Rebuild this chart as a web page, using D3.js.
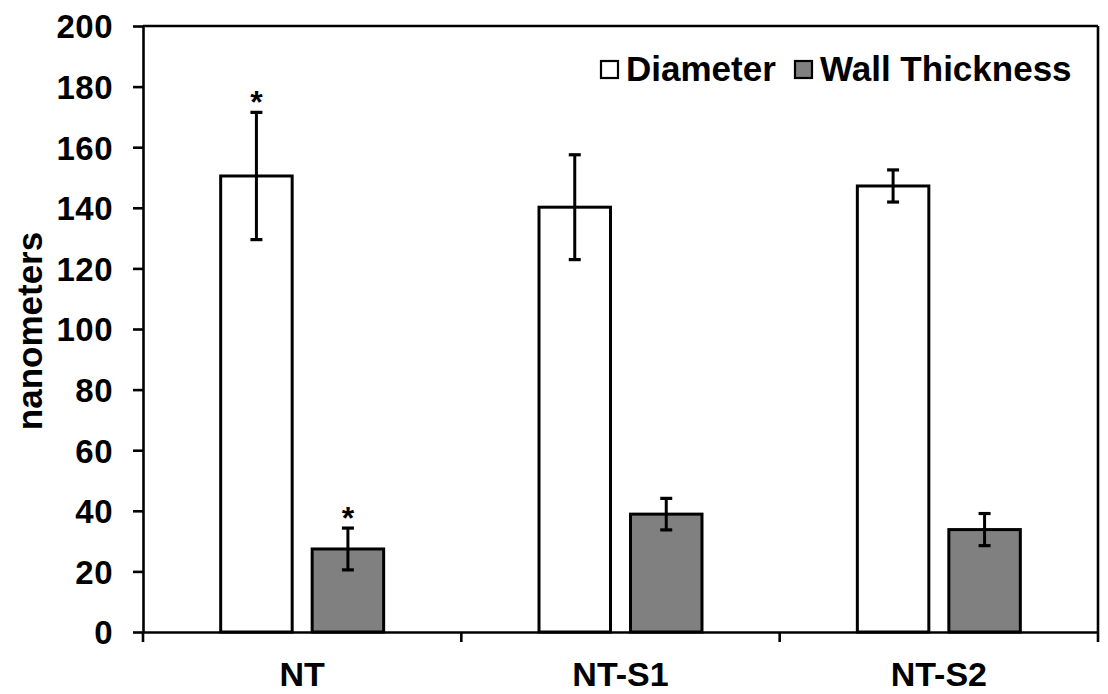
<!DOCTYPE html>
<html>
<head>
<meta charset="utf-8">
<script src="https://cdn.jsdelivr.net/npm/d3@7"></script>
<style>
  html, body { margin: 0; padding: 0; background: #fff; }
  svg { display: block; }
  text { font-family: "Liberation Sans", Arial, sans-serif; font-weight: bold; fill: #000; }
</style>
</head>
<body>
<svg id="chart" width="1108" height="694"></svg>
<script>
const categories = ["NT", "NT-S1", "NT-S2"];
const seriesNames = ["Diameter", "Wall Thickness"];
const diameter = [150.5, 140.2, 147.2];
const diameterErr = [21.0, 17.3, 5.3];
const wall = [27.4, 38.9, 33.8];
const wallErr = [6.9, 5.2, 5.3];
const diameterSig = [true, false, false];
const wallSig = [true, false, false];
const yTicks = [0, 20, 40, 60, 80, 100, 120, 140, 160, 180, 200];
const yTitle = "nanometers";

const svg = d3.select("#chart");
const plotL = 143, plotR = 1098, plotT = 26, plotB = 632;

const x = d3.scaleBand().domain(categories).range([plotL, plotR]).padding(0);
const xs = d3.scaleBand().domain(seriesNames).range([0, x.bandwidth()])
  .paddingInner(0.2186).paddingOuter(0.849);
const y = d3.scaleLinear().domain([0, 200]).range([plotB, plotT]);

const fills = { "Diameter": "#ffffff", "Wall Thickness": "#808080" };

const rows = [];
categories.forEach((c, i) => {
  rows.push({ cat: c, s: "Diameter", v: diameter[i], e: diameterErr[i], sig: diameterSig[i] });
  rows.push({ cat: c, s: "Wall Thickness", v: wall[i], e: wallErr[i], sig: wallSig[i] });
});

// plot frame (top and right)
svg.append("line").attr("x1", plotL).attr("x2", plotR).attr("y1", plotT).attr("y2", plotT)
  .attr("stroke", "#000").attr("stroke-width", 2.6);
svg.append("line").attr("x1", plotR).attr("x2", plotR).attr("y1", plotT).attr("y2", plotB)
  .attr("stroke", "#000").attr("stroke-width", 2.6);

// bars
svg.selectAll("rect.bar").data(rows).enter().append("rect")
  .attr("class", "bar")
  .attr("x", d => x(d.cat) + xs(d.s))
  .attr("width", xs.bandwidth())
  .attr("y", d => y(d.v))
  .attr("height", d => y(0) - y(d.v))
  .attr("fill", d => fills[d.s])
  .attr("stroke", "#000").attr("stroke-width", 3);

// error bars
const capW = 12;
const eg = svg.selectAll("g.err").data(rows).enter().append("g").attr("class", "err");
eg.append("line")
  .attr("x1", d => x(d.cat) + xs(d.s) + xs.bandwidth() / 2)
  .attr("x2", d => x(d.cat) + xs(d.s) + xs.bandwidth() / 2)
  .attr("y1", d => y(d.v - d.e)).attr("y2", d => y(d.v + d.e))
  .attr("stroke", "#000").attr("stroke-width", 3);
[1, -1].forEach(sgn => {
  eg.append("line")
    .attr("x1", d => x(d.cat) + xs(d.s) + xs.bandwidth() / 2 - capW / 2)
    .attr("x2", d => x(d.cat) + xs(d.s) + xs.bandwidth() / 2 + capW / 2)
    .attr("y1", d => y(d.v + sgn * d.e)).attr("y2", d => y(d.v + sgn * d.e))
    .attr("stroke", "#000").attr("stroke-width", 3.2);
});

// significance asterisks
svg.selectAll("text.sig").data(rows.filter(d => d.sig)).enter().append("text")
  .attr("class", "sig")
  .attr("x", d => x(d.cat) + xs(d.s) + xs.bandwidth() / 2)
  .attr("y", d => y(d.v + d.e) + 1)
  .attr("text-anchor", "middle")
  .style("font-size", "32px")
  .text("*");

// y axis
const yAxis = svg.append("g").attr("transform", `translate(${plotL},0)`)
  .call(d3.axisLeft(y).tickValues(yTicks).tickSize(10).tickSizeOuter(0).tickPadding(20));
yAxis.select(".domain").attr("stroke", "#000").attr("stroke-width", 2.6);
yAxis.selectAll(".tick line").attr("stroke", "#000").attr("stroke-width", 2.6);
yAxis.selectAll(".tick text")
  .style("font-family", "'Liberation Sans', Arial, sans-serif")
  .style("font-weight", "bold")
  .style("font-size", "33px")
  .style("letter-spacing", "0.5px")
  .attr("fill", "#000")
  .attr("dy", "0.36em");

// x axis
const xAxis = svg.append("g").attr("transform", `translate(0,${plotB})`)
  .call(d3.axisBottom(x).tickSize(0).tickPadding(30));
xAxis.select(".domain").attr("stroke", "#000").attr("stroke-width", 2.6);
xAxis.selectAll(".tick text")
  .style("font-family", "'Liberation Sans', Arial, sans-serif")
  .style("font-weight", "bold")
  .style("font-size", "34px")
  .attr("fill", "#000");
// category separator ticks
const bounds = categories.map(c => x(c)).concat([x.range()[1]]);
svg.selectAll("line.xsep").data(bounds).enter().append("line")
  .attr("class", "xsep")
  .attr("x1", d => d).attr("x2", d => d)
  .attr("y1", plotB).attr("y2", plotB + 10)
  .attr("stroke", "#000").attr("stroke-width", 2.6);

// y title
svg.append("text")
  .attr("transform", `translate(42,${(plotT + plotB) / 2 + 2}) rotate(-90)`)
  .attr("text-anchor", "middle")
  .style("font-size", "35px")
  .text(yTitle);

// legend
const legend = svg.append("g");
const legX = [601, 795];
seriesNames.forEach((s, i) => {
  legend.append("rect").attr("x", legX[i]).attr("y", 61).attr("width", 17).attr("height", 17)
    .attr("fill", fills[s]).attr("stroke", "#000").attr("stroke-width", 2.2);
  legend.append("text").attr("x", legX[i] + 25).attr("y", 81)
    .style("font-size", "35px").text(s);
});
</script>
</body>
</html>
